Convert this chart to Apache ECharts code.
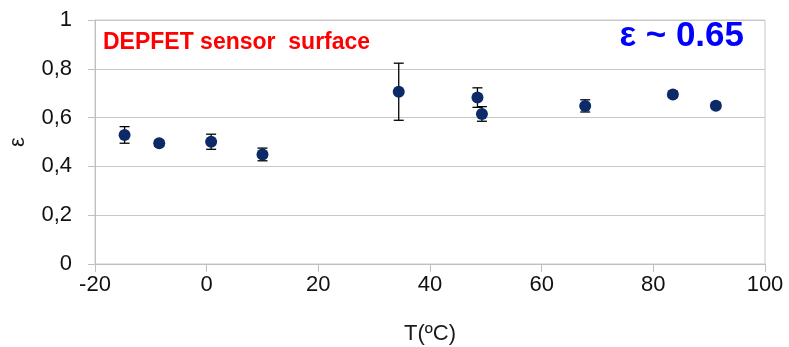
<!DOCTYPE html>
<html>
<head>
<meta charset="utf-8">
<script src="https://cdn.jsdelivr.net/npm/echarts@6/dist/echarts.min.js"></script>
<style>
  html, body { margin: 0; padding: 0; background: #fff; }
  #chart { width: 789px; height: 347px; }
</style>
</head>
<body>
<div id="chart"></div>
<script>
// values
var temps = [-14.7, -8.5, 0.8, 10.0, 34.4, 48.5, 49.3, 67.8, 83.5, 91.2];
var eps = [0.529, 0.495, 0.501, 0.449, 0.706, 0.682, 0.615, 0.648, 0.695, 0.649];
var errs = [0.034, 0.012, 0.031, 0.026, 0.117, 0.04, 0.03, 0.025, 0.012, 0.012];
var yTicks = [0, 0.2, 0.4, 0.6, 0.8, 1];
var xTicks = [-20, 0, 20, 40, 60, 80, 100];

var font = '"Liberation Sans", Arial, sans-serif';
var chart = echarts.init(document.getElementById('chart'), null, { renderer: 'canvas' });

var points = temps.map(function (t, i) { return [t, eps[i]]; });
var bars = temps.map(function (t, i) { return [t, eps[i], errs[i]]; });

function errorBar(params, api) {
    var x = api.value(0), y = api.value(1), e = api.value(2);
    var top = api.coord([x, y + e]);
    var bot = api.coord([x, y - e]);
    var w = 5;
    var style = { stroke: '#000', lineWidth: 1.3 };
    return {
        type: 'group',
        children: [
            { type: 'line', shape: { x1: top[0], y1: top[1], x2: bot[0], y2: bot[1] }, style: style },
            { type: 'line', shape: { x1: top[0] - w, y1: top[1], x2: top[0] + w, y2: top[1] }, style: style },
            { type: 'line', shape: { x1: bot[0] - w, y1: bot[1], x2: bot[0] + w, y2: bot[1] }, style: style }
        ]
    };
}

var option = {
    animation: false,
    textStyle: { fontFamily: font },
    grid: {
        left: 95, right: 24, top: 20, bottom: 83,
        outerBoundsMode: 'none',
        show: true, borderColor: '#c8c8c8', borderWidth: 1
    },
    xAxis: {
        type: 'value',
        min: xTicks[0], max: xTicks[xTicks.length - 1], interval: 20,
        name: 'T(ºC)', nameLocation: 'middle', nameGap: 59,
        nameTextStyle: { fontSize: 22, color: '#1a1a1a', fontFamily: font },
        axisLine: { show: true, onZero: false, lineStyle: { color: '#c0c0c0' } },
        axisTick: { show: true, length: 8, lineStyle: { color: '#c0c0c0' } },
        axisLabel: { fontSize: 22, color: '#111', margin: 10, fontFamily: font },
        splitLine: { show: false }
    },
    yAxis: {
        type: 'value',
        min: yTicks[0], max: yTicks[yTicks.length - 1], interval: 0.2,
        name: 'ε', nameLocation: 'middle', nameGap: 66, nameRotate: 90,
        nameTextStyle: { fontSize: 22, color: '#1a1a1a', fontFamily: font },
        axisLine: { show: true, onZero: false, lineStyle: { color: '#c0c0c0' } },
        axisTick: { show: true, length: 7, lineStyle: { color: '#c0c0c0' } },
        axisLabel: {
            fontSize: 22, color: '#111', margin: 23, fontFamily: font,
            formatter: function (v) { return String(Math.round(v * 10) / 10).replace('.', ','); }
        },
        splitLine: { show: true, lineStyle: { color: '#c8c8c8' } }
    },
    graphic: [
        {
            type: 'text', left: 103, top: 31,
            style: { text: 'DEPFET sensor  surface', fill: '#ff0000', font: 'bold 23px ' + font }
        },
        {
            type: 'text', right: 45, top: 19,
            style: { text: 'ε ~ 0.65', fill: '#0000ff', font: 'bold 35px ' + font }
        }
    ],
    series: [
        {
            type: 'custom',
            renderItem: errorBar,
            data: bars,
            encode: { x: 0, y: 1 },
            z: 2
        },
        {
            type: 'scatter',
            data: points,
            symbol: 'circle',
            symbolSize: 12,
            itemStyle: { color: '#0c2a68', opacity: 1 },
            z: 3
        }
    ]
};
chart.setOption(option);
</script>
</body>
</html>
